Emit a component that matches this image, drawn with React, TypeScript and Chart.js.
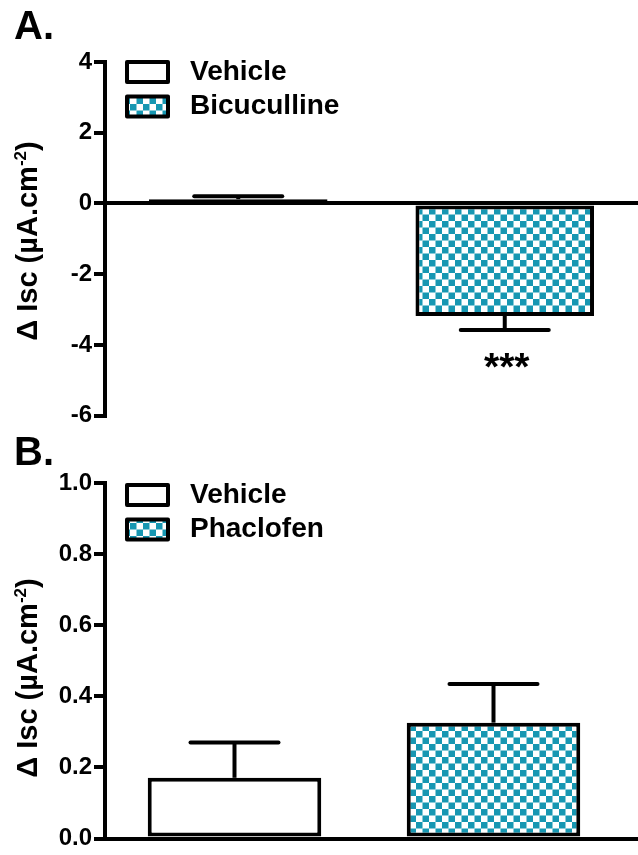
import React, { useEffect, useRef } from 'react';
import { Chart, registerables } from 'chart.js';

Chart.register(...registerables);

const FONT = "'Liberation Sans', Arial, Helvetica, sans-serif";
const TEAL = '#1797b2';

// Panel A
const categoriesA = ['Vehicle', 'Bicuculline'];
const meanA = [0.12, -3.18];
const semA = [0.08, 0.4];
const marksA = ['', '***'];
const yMinA = -6;
const yMaxA = 4;
const yStepA = 2;

// Panel B
const categoriesB = ['Vehicle', 'Phaclofen'];
const meanB = [0.171, 0.326];
const semB = [0.099, 0.109];
const marksB = ['', ''];
const yMinB = 0;
const yMaxB = 1.0;
const yStepB = 0.2;

const yTitleMain = 'Δ Isc (µA.cm';
const yTitleSup = '-2';
const yTitleEnd = ')';

type PanelCfg = {
  label: string;
  categories: string[];
  means: number[];
  sems: number[];
  marks: string[];
  min: number;
  max: number;
  step: number;
  decimals: number;
  padTop: number;
  padBottom: number;
  padRight: number;
  labelY: number;
  titleY: number;
  legendTop: number;
};

const cfgA: PanelCfg = {
  label: 'A.',
  categories: categoriesA,
  means: meanA,
  sems: semA,
  marks: marksA,
  min: yMinA,
  max: yMaxA,
  step: yStepA,
  decimals: 0,
  padTop: 62,
  padBottom: 15,
  padRight: 0,
  labelY: 39,
  titleY: 241,
  legendTop: -2,
};

const cfgB: PanelCfg = {
  label: 'B.',
  categories: categoriesB,
  means: meanB,
  sems: semB,
  marks: marksB,
  min: yMinB,
  max: yMaxB,
  step: yStepB,
  decimals: 1,
  padTop: 51,
  padBottom: 16,
  padRight: 15,
  labelY: 33,
  titleY: 246,
  legendTop: 0,
};

function makePattern(ctx: CanvasRenderingContext2D) {
  const c = document.createElement('canvas');
  c.width = 13;
  c.height = 13;
  const p = c.getContext('2d') as CanvasRenderingContext2D;
  p.fillStyle = '#ffffff';
  p.fillRect(0, 0, 13, 13);
  p.fillStyle = TEAL;
  p.fillRect(0, 0, 6.5, 6.5);
  p.fillRect(6.5, 6.5, 6.5, 6.5);
  return ctx.createPattern(c, 'repeat') as CanvasPattern;
}

function decorPlugin(cfg: PanelCfg) {
  return {
    id: 'decor',
    afterDatasetsDraw(chart: any) {
      const { ctx, chartArea } = chart;
      const yScale = chart.scales.y;
      const meta = chart.getDatasetMeta(0);
      ctx.save();
      ctx.strokeStyle = '#000';
      ctx.fillStyle = '#000';
      ctx.lineWidth = 4;
      // continue the x axis line to the canvas edge
      const zeroY = Math.round(yScale.getPixelForValue(0));
      if (chart.width > chartArea.right) {
        ctx.lineCap = 'butt';
        ctx.beginPath();
        ctx.moveTo(chartArea.right - 2, zeroY);
        ctx.lineTo(chart.width, zeroY);
        ctx.stroke();
      }
      meta.data.forEach((bar: any, i: number) => {
        const v = cfg.means[i];
        const s = cfg.sems[i];
        const end = v >= 0 ? v + s : v - s;
        const y0 = yScale.getPixelForValue(v);
        const y1 = yScale.getPixelForValue(end);
        const x = bar.x;
        ctx.lineCap = 'butt';
        ctx.beginPath();
        ctx.moveTo(x, y0);
        ctx.lineTo(x, y1);
        ctx.stroke();
        ctx.lineCap = 'round';
        ctx.beginPath();
        ctx.moveTo(x - 44, y1);
        ctx.lineTo(x + 44, y1);
        ctx.stroke();
        if (cfg.marks[i]) {
          ctx.font = `bold 39px ${FONT}`;
          ctx.textAlign = 'center';
          ctx.textBaseline = 'alphabetic';
          ctx.fillText(cfg.marks[i], x + 2, y1 + 50);
        }
      });
      ctx.restore();
    },
    afterDraw(chart: any) {
      const { ctx, chartArea } = chart;
      const bgs = chart.data.datasets[0].backgroundColor;
      ctx.save();
      // legend
      const lx = chartArea.left + 20;
      const ly = chartArea.top + cfg.legendTop;
      cfg.categories.forEach((name: string, i: number) => {
        const top = ly + i * 34.5;
        ctx.fillStyle = bgs[i];
        ctx.fillRect(lx + 2, top + 2, 41, 20);
        ctx.lineWidth = 4;
        ctx.strokeStyle = '#000';
        ctx.lineJoin = 'round';
        ctx.strokeRect(lx + 2, top + 2, 41, 20);
        ctx.fillStyle = '#000';
        ctx.font = `bold 28px ${FONT}`;
        ctx.textAlign = 'left';
        ctx.textBaseline = 'middle';
        ctx.fillText(name, chartArea.left + 85, top + 12);
      });
      // panel label
      ctx.fillStyle = '#000';
      ctx.font = `bold 40px ${FONT}`;
      ctx.textAlign = 'left';
      ctx.textBaseline = 'alphabetic';
      ctx.fillText(cfg.label, 14, cfg.labelY);
      // y title
      ctx.translate(37, cfg.titleY);
      ctx.rotate(-Math.PI / 2);
      const big = `bold 29px ${FONT}`;
      const small = `bold 17px ${FONT}`;
      ctx.font = big;
      const w1 = ctx.measureText(yTitleMain).width;
      const w3 = ctx.measureText(yTitleEnd).width;
      ctx.font = small;
      const w2 = ctx.measureText(yTitleSup).width;
      let x = -(w1 + w2 + w3) / 2;
      ctx.font = big;
      ctx.fillText(yTitleMain, x, 0);
      x += w1;
      ctx.font = small;
      ctx.fillText(yTitleSup, x, -11);
      x += w2;
      ctx.font = big;
      ctx.fillText(yTitleEnd, x, 0);
      ctx.restore();
    },
  };
}

function buildChart(canvas: HTMLCanvasElement, cfg: PanelCfg) {
  const ctx = canvas.getContext('2d') as CanvasRenderingContext2D;
  const pattern = makePattern(ctx);
  return new Chart(ctx, {
    type: 'bar',
    data: {
      labels: cfg.categories,
      datasets: [
        {
          data: cfg.means,
          backgroundColor: ['#ffffff', pattern] as any,
          borderColor: '#000000',
          borderWidth: 4,
          borderSkipped: false,
          barPercentage: 0.67,
          categoryPercentage: 1,
        },
      ],
    },
    options: {
      responsive: false,
      animation: false,
      devicePixelRatio: 1,
      layout: { padding: { left: 0, right: cfg.padRight, top: cfg.padTop, bottom: cfg.padBottom } },
      plugins: {
        legend: { display: false },
        tooltip: { enabled: false },
        title: { display: false },
      },
      scales: {
        x: {
          type: 'category',
          position: { y: 0 } as any,
          grid: { display: false, drawTicks: false },
          ticks: { display: false },
          border: { display: true, color: '#000000', width: 4 },
          afterFit: (s: any) => {
            s.height = 0;
          },
        },
        y: {
          type: 'linear',
          min: cfg.min,
          max: cfg.max,
          ticks: {
            stepSize: cfg.step,
            color: '#000000',
            padding: 2,
            font: { family: FONT, size: 24, weight: 'bold' },
            callback: (v: any) => Number(v).toFixed(cfg.decimals),
          },
          grid: {
            drawOnChartArea: false,
            drawTicks: true,
            tickLength: 11,
            lineWidth: 4,
            color: '#000000',
          },
          border: { display: true, color: '#000000', width: 4 },
          afterFit: (s: any) => {
            s.width = 105;
          },
        },
      },
    },
    plugins: [decorPlugin(cfg)],
  } as any);
}

export default function App() {
  const refA = useRef<HTMLCanvasElement | null>(null);
  const refB = useRef<HTMLCanvasElement | null>(null);
  useEffect(() => {
    const a = buildChart(refA.current as HTMLCanvasElement, cfgA);
    const b = buildChart(refB.current as HTMLCanvasElement, cfgB);
    return () => {
      a.destroy();
      b.destroy();
    };
  }, []);
  return (
    <div style={{ position: 'absolute', left: 0, top: 0, width: 638, height: 855, background: '#ffffff' }}>
      <canvas ref={refA} width={638} height={432} style={{ display: 'block', position: 'absolute', left: 0, top: 0 }} />
      <canvas ref={refB} width={638} height={423} style={{ display: 'block', position: 'absolute', left: 0, top: 432 }} />
    </div>
  );
}
